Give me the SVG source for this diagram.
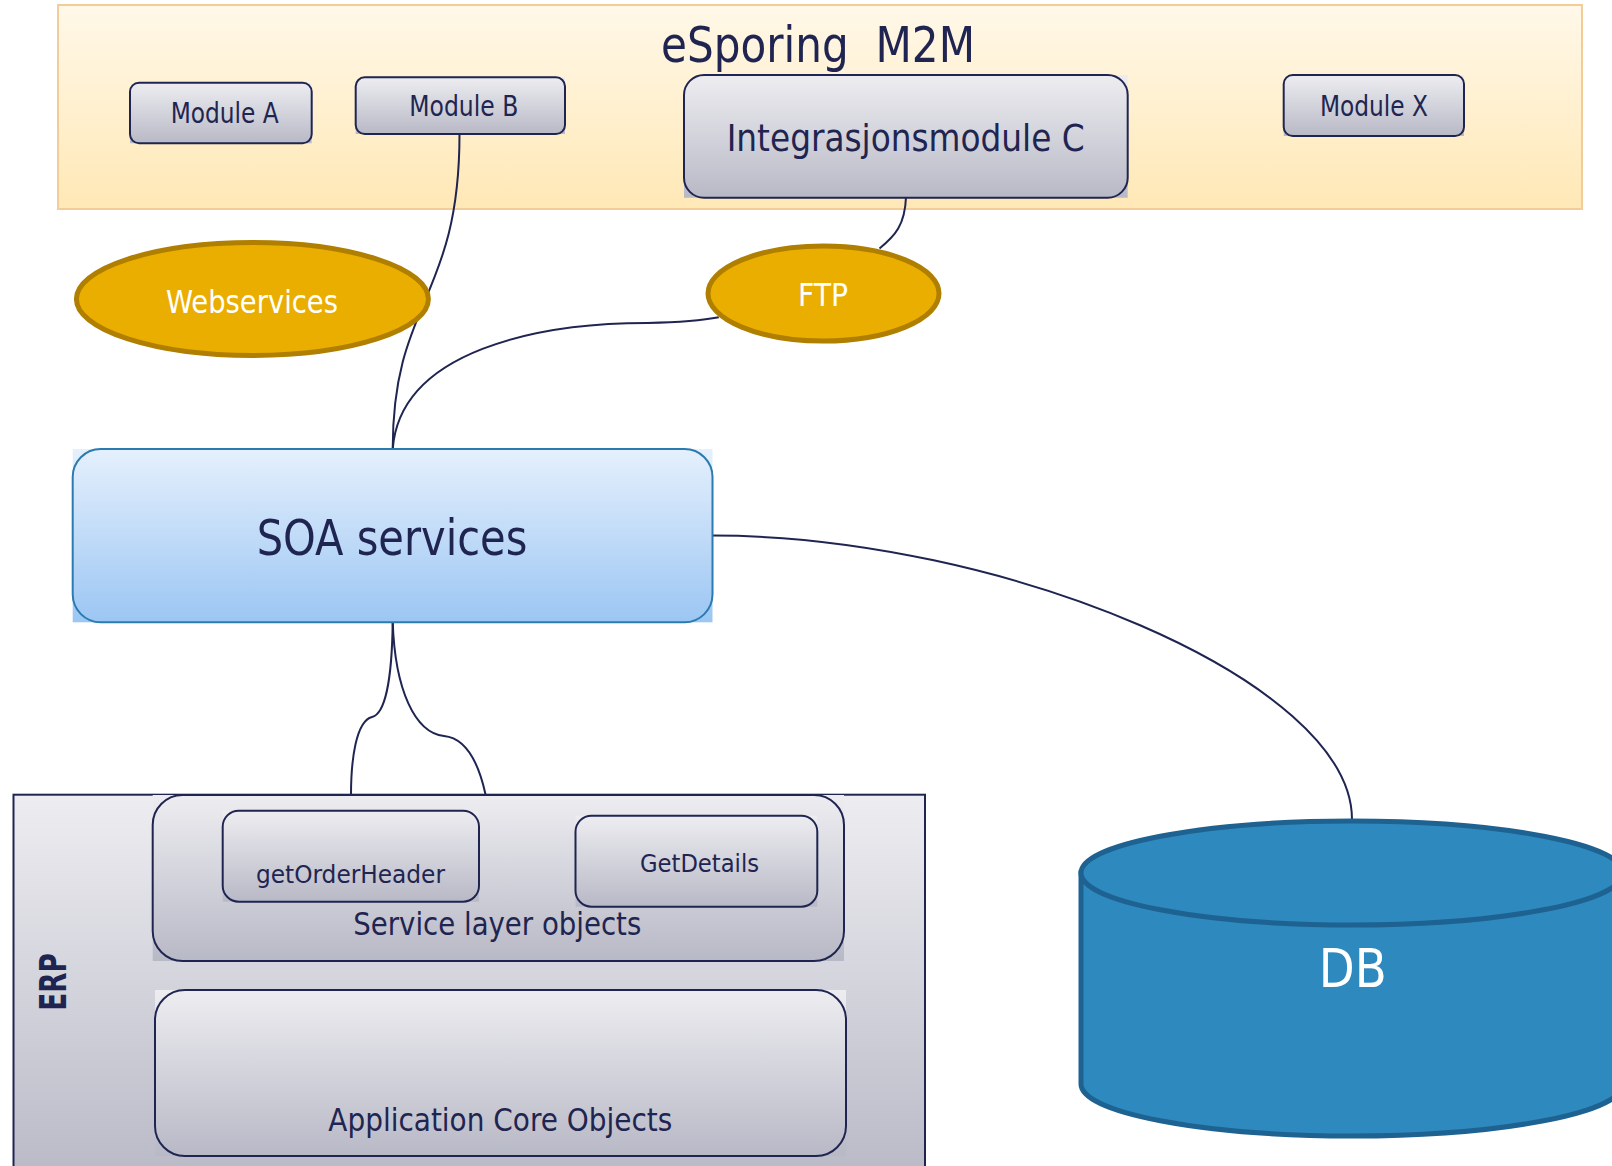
<svg xmlns="http://www.w3.org/2000/svg" width="1612" height="1166" viewBox="0 0 1612 1166">
<defs>
<linearGradient id="gCream" x1="0" y1="0" x2="0" y2="1"><stop offset="0" stop-color="#FFF8E9"/><stop offset="1" stop-color="#FFE8B6"/></linearGradient>
<linearGradient id="gGrey" x1="0" y1="0" x2="0" y2="1"><stop offset="0" stop-color="#EDEDF1"/><stop offset="1" stop-color="#B8B9C6"/></linearGradient>
<linearGradient id="gBlue" x1="0" y1="0" x2="0" y2="1"><stop offset="0" stop-color="#E5F0FD"/><stop offset="1" stop-color="#9CC6F3"/></linearGradient>
<style>
.t{font-family:"DejaVu Sans Condensed","DejaVu Sans",sans-serif;fill:#1F2550;}
.w{font-family:"DejaVu Sans Condensed","DejaVu Sans",sans-serif;fill:#FFFFFF;}
.box{fill:url(#gGrey);stroke:#1F2550;stroke-width:2;}
.sq{fill:url(#gGrey);stroke:none;}
.ell{fill:#EAAE00;stroke:#B07F00;stroke-width:5;}
.con{fill:none;stroke:#1F2550;stroke-width:2;}
</style>
</defs>

<g id="esporing">
<rect x="58" y="5" width="1524" height="204" fill="url(#gCream)" stroke="#F3CD98" stroke-width="2"/>
<text class="t" x="661" y="62.3" font-size="50" textLength="314" lengthAdjust="spacingAndGlyphs" xml:space="preserve" style="white-space:pre">eSporing  M2M</text>
</g>

<g id="erp">
<rect x="13.5" y="794.7" width="911.5" height="390" fill="url(#gGrey)" stroke="#1F2550" stroke-width="2"/>
<text class="t" transform="translate(65.7,1010.7) rotate(-90)" font-size="37" font-weight="bold" textLength="57.4" lengthAdjust="spacingAndGlyphs">ERP</text>
</g>

<g id="connectors">
<path class="con" d="M 459.5 134 C 459.5 300, 392.7 300, 392.7 449"/>
<path class="con" d="M 906 197 C 905 225, 895 236, 879.5 248.5"/>
<path class="con" d="M 718.8 317.3 C 695 322, 670 322.5, 647 323 C 540 323, 400 350, 392.7 449.3"/>
<path class="con" d="M 712.5 535.6 C 1000 535.6, 1352 680, 1352 819.4"/>
<path class="con" d="M 392.7 622 C 392 680, 385 714, 372 717 C 356 721, 351 760, 351 794.7"/>
<path class="con" d="M 392.7 622 C 395 690, 415 733, 444 736 C 465 738, 478 760, 485.6 794.7"/>
</g>

<g id="moduleA">
<path class="sq" d="M 139 82.7 H 311.7 V 143.3 H 130 V 91 Z"/>
<rect class="box" x="130" y="82.7" width="181.7" height="60.6" rx="9"/>
<text class="t" x="170.7" y="123.3" font-size="27.5" textLength="108" lengthAdjust="spacingAndGlyphs">Module A</text>
</g>

<g id="moduleB">
<path class="sq" d="M 364.7 77.3 H 565 V 134 H 355.7 V 86.3 Z"/>
<rect class="box" x="355.7" y="77.3" width="209.3" height="56.7" rx="9"/>
<text class="t" x="409.3" y="115.7" font-size="27.5" textLength="109" lengthAdjust="spacingAndGlyphs">Module B</text>
</g>

<g id="moduleC">
<path class="sq" d="M 704 75 H 1127.7 V 197.7 H 684 V 95 Z"/>
<rect class="box" x="684" y="75" width="443.7" height="122.7" rx="20"/>
<text class="t" x="726.7" y="151" font-size="38" textLength="358" lengthAdjust="spacingAndGlyphs">Integrasjonsmodule C</text>
</g>

<g id="moduleX">
<path class="sq" d="M 1292.7 75 H 1464 V 136 H 1283.7 V 84 Z"/>
<rect class="box" x="1283.7" y="75" width="180.3" height="61" rx="9"/>
<text class="t" x="1320" y="116.3" font-size="27.5" textLength="108" lengthAdjust="spacingAndGlyphs">Module X</text>
</g>

<g id="webservices">
<ellipse class="ell" cx="252.4" cy="299" rx="176" ry="56.5"/>
<text class="w" x="166" y="312.7" font-size="32" textLength="172" lengthAdjust="spacingAndGlyphs">Webservices</text>
</g>

<g id="ftp">
<ellipse class="ell" cx="823.5" cy="293.5" rx="115.5" ry="47.5"/>
<text class="w" x="798" y="306" font-size="32" textLength="50" lengthAdjust="spacingAndGlyphs">FTP</text>
</g>

<g id="soa">
<rect x="72.7" y="449" width="639.8" height="173.3" fill="url(#gBlue)"/>
<rect x="72.7" y="449" width="639.8" height="173.3" rx="28" fill="url(#gBlue)" stroke="#2C7BB0" stroke-width="2"/>
<text class="t" x="256.7" y="555" font-size="50" textLength="270.7" lengthAdjust="spacingAndGlyphs">SOA services</text>
</g>

<g id="serviceLayer">
<rect class="sq" x="152.7" y="795" width="691.3" height="166"/>
<rect class="box" x="152.7" y="795" width="691.3" height="166" rx="30"/>
<text class="t" x="353.3" y="935" font-size="32" textLength="288" lengthAdjust="spacingAndGlyphs">Service layer objects</text>
</g>

<g id="getOrderHeader">
<rect class="sq" x="222.7" y="810.7" width="256.3" height="91"/>
<rect class="box" x="222.7" y="810.7" width="256.3" height="91" rx="16"/>
<text class="t" x="256" y="882.7" font-size="24" textLength="189" lengthAdjust="spacingAndGlyphs">getOrderHeader</text>
</g>

<g id="getDetails">
<rect class="sq" x="575.5" y="815.7" width="241.8" height="91"/>
<rect class="box" x="575.5" y="815.7" width="241.8" height="91" rx="16"/>
<text class="t" x="640" y="871.7" font-size="24" textLength="119" lengthAdjust="spacingAndGlyphs">GetDetails</text>
</g>

<g id="appCore">
<rect class="sq" x="155" y="990" width="691" height="166"/>
<rect class="box" x="155" y="990" width="691" height="166" rx="30"/>
<text class="t" x="328.3" y="1131" font-size="32" textLength="344" lengthAdjust="spacingAndGlyphs">Application Core Objects</text>
</g>

<g id="db">
<path d="M 1081 873 V 1084 A 271 52 0 0 0 1623 1084 V 873 Z" fill="#2E89BF" stroke="#1E6291" stroke-width="5"/>
<ellipse cx="1352" cy="873" rx="271" ry="52" fill="#2E89BF" stroke="#1E6291" stroke-width="5"/>
<text class="w" x="1318.8" y="987" font-size="53.5" textLength="68" lengthAdjust="spacingAndGlyphs">DB</text>
</g>
</svg>
